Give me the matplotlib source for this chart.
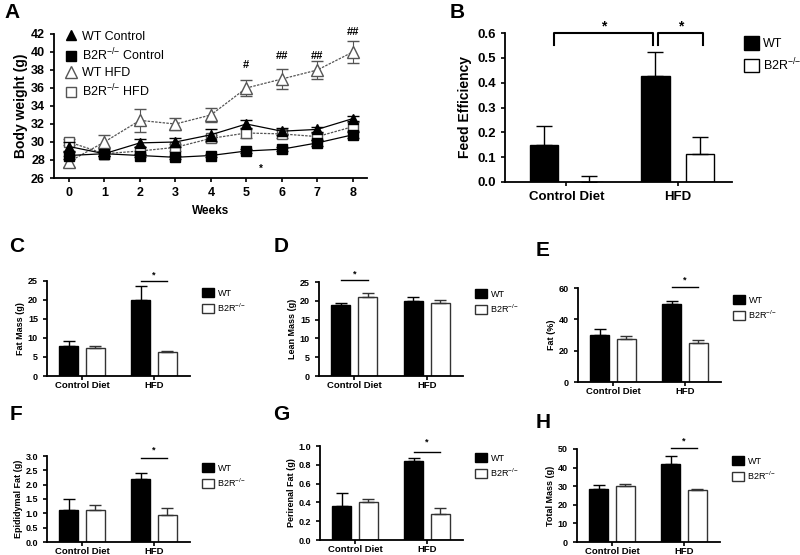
import numpy as np
import matplotlib
matplotlib.use("Agg")
import matplotlib.pyplot as plt
from matplotlib.patches import Patch
from matplotlib.lines import Line2D

plt.rcParams["font.family"] = ["Liberation Sans", "DejaVu Sans"]
plt.rcParams["mathtext.fontset"] = "custom"
plt.rcParams["mathtext.rm"] = "Liberation Sans"
plt.rcParams["mathtext.bf"] = "Liberation Sans:bold"

KO = r"B2R$^{{-}/{-}}$"

# ---- panel A: body weight over weeks
weeks = [0, 1, 2, 3, 4, 5, 6, 7, 8]
wt_ctrl = [29.5, 28.7, 29.9, 30.0, 30.8, 32.0, 31.2, 31.4, 32.6]
wt_ctrl_err = [0.5, 0.2, 0.4, 0.5, 0.7, 0.4, 0.4, 0.3, 0.3]
ko_ctrl = [28.5, 28.7, 28.5, 28.3, 28.5, 29.0, 29.2, 29.9, 30.8]
ko_ctrl_err = [0.4, 0.2, 0.2, 0.2, 0.2, 0.2, 0.2, 0.3, 0.3]
wt_hfd = [27.8, 30.0, 32.4, 32.0, 33.0, 36.0, 37.0, 38.0, 40.0]
wt_hfd_err = [0.6, 0.8, 1.3, 0.7, 0.8, 0.9, 1.1, 1.0, 1.2]
ko_hfd = [30.0, 28.7, 29.0, 29.4, 30.4, 31.0, 30.9, 30.6, 31.7]
ko_hfd_err = [0.3, 0.3, 0.4, 0.4, 0.4, 0.5, 0.4, 0.4, 0.5]
hash_weeks = [5, 6, 7, 8]
hash_labels = ["#", "##", "##", "##"]
hash_y = [38.6, 39.6, 39.6, 42.2]

# ---- panel B: feed efficiency
groups = ["Control Diet", "HFD"]
fe_wt = [0.15, 0.425]
fe_wt_err = [0.075, 0.1]
fe_ko = [0.002, 0.112]
fe_ko_err = [0.023, 0.068]

# ---- panels C-H
panels = [
    # letter, ylabel, wt, wt_err, ko, ko_err, ymax, yticks, sig group, sig y, star y
    ("C", "Fat Mass (g)", [8.0, 20.0], [1.3, 3.7], [7.5, 6.2], [0.5, 0.3],
     25, [0, 5, 10, 15, 20, 25], 1, 25.0, 26.6),
    ("D", "Lean Mass (g)", [19.0, 20.0], [0.4, 1.0], [21.0, 19.5], [1.0, 0.8],
     25, [0, 5, 10, 15, 20, 25], 0, 25.4, 27.0),
    ("E", "Fat (%)", [30.0, 50.0], [4.0, 2.0], [27.5, 25.0], [2.0, 2.0],
     60, [0, 20, 40, 60], 1, 60.8, 65.0),
    ("F", "Epididymal Fat (g)", [1.1, 2.2], [0.4, 0.2], [1.13, 0.95], [0.17, 0.25],
     3.0, [0.0, 0.5, 1.0, 1.5, 2.0, 2.5, 3.0], 1, 2.92, 3.2),
    ("G", "Perirenal Fat (g)", [0.36, 0.84], [0.14, 0.03], [0.40, 0.28], [0.04, 0.06],
     1.0, [0.0, 0.2, 0.4, 0.6, 0.8, 1.0], 1, 0.94, 1.04),
    ("H", "Total Mass (g)", [28.5, 42.0], [2.0, 4.0], [30.0, 28.0], [1.0, 0.5],
     50, [0, 10, 20, 30, 40, 50], 1, 50.3, 54.5),
]

W, H = 800, 555
fig = plt.figure(figsize=(8, 5.55), dpi=100)


def px_axes(left, top, right, bottom):
    return fig.add_axes([left / W, 1 - bottom / H, (right - left) / W, (bottom - top) / H])


def label(x, y, s):
    fig.text(x / W, 1 - y / H, s, fontsize=15, fontweight="bold", ha="center", va="center")


def style(ax, fs):
    for s in ["top", "right"]:
        ax.spines[s].set_visible(False)
    for s in ["left", "bottom"]:
        ax.spines[s].set_linewidth(1.3)
    ax.tick_params(width=1.2, length=3, labelsize=fs)
    for t in ax.get_xticklabels() + ax.get_yticklabels():
        t.set_fontweight("bold")


# ---- A
ax = px_axes(54, 34, 367, 178)
gray = "#555555"
series = [
    (wt_ctrl, wt_ctrl_err, "^", "black", "black", "-", "WT Control"),
    (ko_ctrl, ko_ctrl_err, "s", "black", "black", "-", KO + " Control"),
    (wt_hfd, wt_hfd_err, "^", "white", gray, (0, (2, 1)), "WT HFD"),
    (ko_hfd, ko_hfd_err, "s", "white", gray, (0, (2, 1)), KO + " HFD"),
]
handles = []
for i, (vals, err, mk, fc, ec, ls, name) in enumerate(series):
    ms = 8 if (mk == "^" and fc == "white") else 7
    ax.errorbar(weeks, vals, yerr=err, color=ec, marker=mk, ms=ms, mfc=fc, mec=ec,
                ls=ls, lw=0.9, capsize=4, elinewidth=0.8, zorder=4 - i // 2)
    handles.append(Line2D([], [], ls="none", marker=mk, ms=ms, mfc=fc, mec=ec))
for wk, s, y in zip(hash_weeks, hash_labels, hash_y):
    ax.text(wk, y, s, ha="center", va="center", fontsize=8, fontweight="bold")
ax.text(5.4, 27.0, "*", ha="center", va="center", fontsize=7, fontweight="bold")
ax.set_xlim(-0.42, 8.4)
ax.set_ylim(26, 42)
ax.set_xticks(weeks)
ax.set_yticks(np.arange(26, 43, 2))
ax.set_xlabel("Weeks", fontsize=8.5, fontweight="bold", labelpad=4)
ax.set_ylabel("Body weight (g)", fontsize=10, fontweight="bold", labelpad=2)
style(ax, 9)
ax.legend(handles, [s[-1] for s in series], loc="upper left",
          bbox_to_anchor=(-0.01, 1.1), frameon=False,
          fontsize=9, handletextpad=0.1, labelspacing=0.3, handlelength=1.5)
label(12, 12, "A")

# ---- B
ax = px_axes(505, 33, 732, 182)
cx = np.array([0.0, 3.9])
off = 0.78
ax.bar(cx - off, fe_wt, width=1.0, color="black", edgecolor="black")
ax.bar(cx + off, fe_ko, width=1.0, color="white", edgecolor="black", lw=1.0)
ax.errorbar(cx - off, fe_wt, yerr=[[0, 0], fe_wt_err], fmt="none", ecolor="black",
            capsize=6, elinewidth=1.0)
ax.errorbar(cx + off, fe_ko, yerr=[[0, 0], fe_ko_err], fmt="none", ecolor="black",
            capsize=6, elinewidth=1.0)
# significance brackets
b1 = [cx[0] - off + 0.35, cx[1] - off - 0.08]
b2 = [cx[1] - off + 0.08, cx[1] + off + 0.1]
for a, b in [b1, b2]:
    ax.plot([a, a, b, b], [0.55, 0.6, 0.6, 0.55], color="black", lw=1.5, clip_on=False)
    ax.text((a + b) / 2, 0.625, "*", ha="center", va="center", fontsize=10, fontweight="bold")
ax.set_xlim(-2.15, 5.8)
ax.set_ylim(0, 0.6)
ax.set_xticks(cx)
ax.set_xticklabels(groups)
ax.set_yticks(np.arange(0, 0.61, 0.1))
ax.set_yticklabels(["%.1f" % v for v in np.arange(0, 0.61, 0.1)])
ax.tick_params(axis="x", length=0)
ax.set_ylabel("Feed Efficiency", fontsize=10, fontweight="bold", labelpad=4)
style(ax, 9.5)
handles = [Patch(facecolor="black", edgecolor="black"),
           Patch(facecolor="white", edgecolor="black")]
fig.legend(handles, ["WT", KO], loc="upper left", bbox_to_anchor=(744 / W, 1 - 36 / H),
           frameon=False, fontsize=9, handlelength=1.2, handleheight=1.3,
           handletextpad=0.3, labelspacing=0.5, borderpad=0, borderaxespad=0)
label(457, 13, "B")

# ---- C-H
boxes = {
    "C": (47, 281, 190, 376), "D": (319, 282, 463, 376), "E": (578, 288, 721, 382),
    "F": (47, 456, 190, 542), "G": (320, 446, 463, 540), "H": (577, 449, 720, 542),
}
letters = {"C": (17, 247), "D": (281, 247), "E": (543, 250),
           "F": (16, 415), "G": (281, 414), "H": (543, 423)}
for (letter, ylab, wt, wt_e, ko, ko_e, ymax, yt, sg, sy, stary) in panels:
    ax = px_axes(*boxes[letter])
    cx = np.array([0.0, 3.8])
    off = 0.7
    ax.bar(cx - off, wt, width=1.0, color="black", edgecolor="black")
    ax.bar(cx + off, ko, width=1.0, color="white", edgecolor="#333333", lw=1.0)
    ax.errorbar(cx - off, wt, yerr=[[0, 0], wt_e], fmt="none", ecolor="black",
                capsize=4, elinewidth=1.0)
    ax.errorbar(cx + off, ko, yerr=[[0, 0], ko_e], fmt="none", ecolor="#333333",
                capsize=4, elinewidth=1.0)
    ax.plot([cx[sg] - off, cx[sg] + off], [sy, sy], color="black", lw=1.0, clip_on=False)
    ax.text(cx[sg], stary, "*", ha="center", va="center", fontsize=6.5, fontweight="bold")
    ax.set_xlim(-1.85, 5.7)
    ax.set_ylim(0, ymax)
    ax.set_yticks(yt)
    if isinstance(yt[1], float):
        ax.set_yticklabels(["%.1f" % v for v in yt])
    ax.set_xticks(cx)
    ax.set_xticklabels(groups)
    ax.tick_params(axis="x", length=0, pad=0.5)
    ax.set_ylabel(ylab, fontsize=6.5, fontweight="bold", labelpad=2)
    style(ax, 6.5)
    for t in ax.get_xticklabels():
        t.set_fontsize(6.8)
    x0, y0, x1, y1 = boxes[letter]
    handles = [Patch(facecolor="black", edgecolor="black"),
               Patch(facecolor="white", edgecolor="#333333")]
    fig.legend(handles, ["WT", KO], loc="upper left",
               bbox_to_anchor=((x1 + 4) / W, 1 - (y0 - 1) / H),
               frameon=False, fontsize=6.5, handlelength=1.3, handleheight=1.1,
               handletextpad=0.4, labelspacing=0.4)
    label(*letters[letter], letter)

fig.savefig("out.png", dpi=100, facecolor="white")
